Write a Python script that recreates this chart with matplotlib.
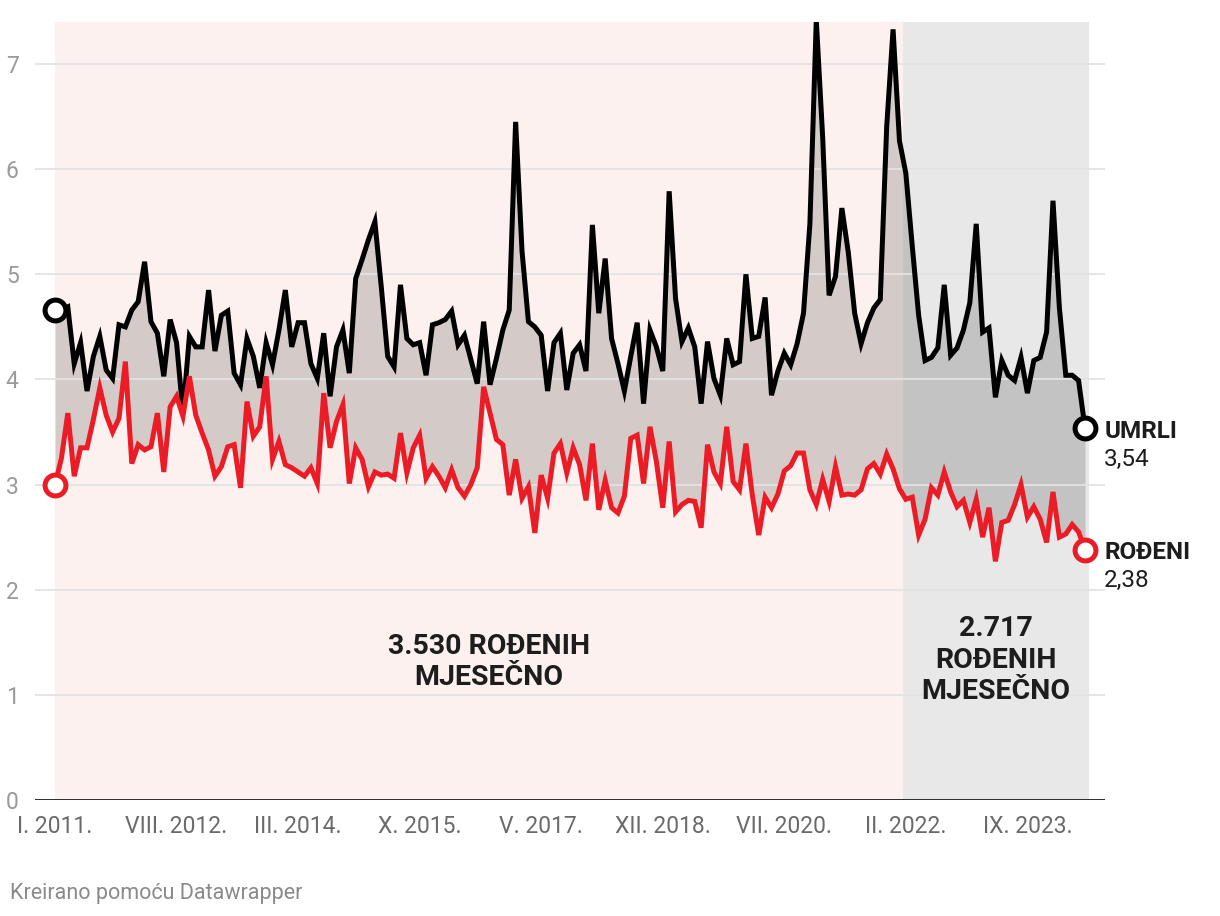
import matplotlib
matplotlib.use("Agg")
import matplotlib.pyplot as plt
import numpy as np

plt.rcParams['font.family'] = ['Roboto', 'DejaVu Sans']

# Monthly values (thousands), January 2011 .. June 2024
umrli = [4.66, 4.66, 4.69, 4.15, 4.35, 3.89, 4.22, 4.41, 4.09, 4.01,
         4.52, 4.50, 4.66, 4.74, 5.12, 4.55, 4.44, 4.03, 4.57, 4.35,
         3.68, 4.41, 4.31, 4.31, 4.85, 4.27, 4.61, 4.65, 4.06, 3.95,
         4.39, 4.22, 3.92, 4.35, 4.14, 4.47, 4.85, 4.31, 4.54, 4.54,
         4.15, 4.01, 4.44, 3.84, 4.31, 4.47, 4.06, 4.96, 5.14, 5.33,
         5.50, 4.88, 4.22, 4.12, 4.90, 4.39, 4.33, 4.35, 4.04, 4.52,
         4.54, 4.57, 4.65, 4.33, 4.42, 4.19, 3.96, 4.55, 3.95, 4.20,
         4.47, 4.66, 6.45, 5.22, 4.55, 4.50, 4.42, 3.89, 4.35, 4.44,
         3.90, 4.25, 4.33, 4.08, 5.47, 4.63, 5.15, 4.39, 4.15, 3.89,
         4.22, 4.54, 3.77, 4.47, 4.31, 4.08, 5.79, 4.77, 4.36, 4.49,
         4.31, 3.77, 4.36, 4.01, 3.85, 4.39, 4.14, 4.17, 5.00, 4.39,
         4.41, 4.78, 3.85, 4.08, 4.25, 4.14, 4.34, 4.63, 5.48, 7.42,
         6.30, 4.80, 4.98, 5.63, 5.21, 4.63, 4.34, 4.54, 4.68, 4.76,
         6.40, 7.33, 6.27, 5.96, 5.27, 4.61, 4.18, 4.21, 4.30, 4.90,
         4.23, 4.30, 4.47, 4.73, 5.48, 4.45, 4.49, 3.83, 4.18, 4.04,
         3.99, 4.21, 3.87, 4.18, 4.21, 4.45, 5.70, 4.68, 4.04, 4.04,
         3.99, 3.54]

rodjeni = [3.00, 3.25, 3.68, 3.08, 3.35, 3.35, 3.62, 3.92, 3.66, 3.50,
           3.63, 4.17, 3.20, 3.38, 3.33, 3.36, 3.68, 3.12, 3.74, 3.84,
           3.65, 4.03, 3.66, 3.49, 3.33, 3.08, 3.17, 3.36, 3.38, 2.97,
           3.79, 3.46, 3.55, 4.03, 3.24, 3.41, 3.19, 3.16, 3.12, 3.08,
           3.16, 3.01, 3.87, 3.35, 3.60, 3.76, 3.01, 3.35, 3.24, 2.98,
           3.12, 3.09, 3.10, 3.06, 3.49, 3.11, 3.35, 3.47, 3.06, 3.17,
           3.08, 2.97, 3.14, 2.97, 2.89, 3.00, 3.16, 3.93, 3.68, 3.43,
           3.38, 2.90, 3.24, 2.87, 2.98, 2.54, 3.09, 2.87, 3.30, 3.39,
           3.11, 3.35, 3.19, 2.85, 3.39, 2.76, 3.04, 2.78, 2.73, 2.89,
           3.44, 3.47, 3.01, 3.55, 3.22, 2.78, 3.41, 2.74, 2.81, 2.85,
           2.84, 2.59, 3.38, 3.12, 3.01, 3.55, 3.03, 2.95, 3.39, 2.90,
           2.52, 2.88, 2.78, 2.91, 3.13, 3.18, 3.30, 3.30, 2.95, 2.81,
           3.05, 2.84, 3.17, 2.90, 2.91, 2.90, 2.95, 3.15, 3.20, 3.10,
           3.29, 3.15, 2.96, 2.86, 2.88, 2.52, 2.67, 2.97, 2.90, 3.12,
           2.93, 2.79, 2.85, 2.64, 2.86, 2.50, 2.78, 2.27, 2.64, 2.66,
           2.81, 3.00, 2.69, 2.79, 2.67, 2.45, 2.93, 2.50, 2.53, 2.62,
           2.55, 2.38]

tick_months = [0, 19, 38, 57, 76, 95, 114, 133, 152]
tick_labels = ["I. 2011.", "VIII. 2012.", "III. 2014.", "X. 2015.", "V. 2017.",
               "XII. 2018.", "VII. 2020.", "II. 2022.", "IX. 2023."]
y_ticks = [0, 1, 2, 3, 4, 5, 6, 7]

period_split = 132.55   # start of the grey (recent) period
period_end = 161.6

x = np.arange(len(umrli))
n = len(umrli)

fig = plt.figure(figsize=(12.2, 9.16), dpi=100)
ax = fig.add_axes([35/1220, 1 - 800/916, 1070/1220, 778/916])
ax.set_xlim(-20/6.39, (n - 1) + 20/6.39)
ax.set_ylim(0, 7.4)

# period backgrounds
ax.axvspan(0, period_split, color='#fcf1ee', zorder=0, lw=0)
ax.axvspan(period_split, period_end, color='#e8e8e8', zorder=0, lw=0)

# gridlines
for yv in y_ticks[1:]:
    ax.axhline(yv, color='#e3e3e3', lw=1.3, zorder=1.5)
ax.axhline(0, color='#1a1a1a', lw=2, zorder=5)

# fill between
ax.fill_between(x, rodjeni, umrli, color='black', alpha=0.155, lw=0, zorder=1)

ax.plot(x, umrli, color='black', lw=3.6, zorder=4, solid_joinstyle='miter')
ax.plot(x, rodjeni, color='#ec1c27', lw=3.6, zorder=4, solid_joinstyle='miter')

for series, col in [(umrli, 'black'), (rodjeni, '#ec1c27')]:
    ax.plot([0, n - 1], [series[0], series[-1]], ls='none', marker='o', ms=15,
            mfc='white', mec=col, mew=3.6, zorder=6)

for s in ax.spines.values():
    s.set_visible(False)

ax.set_yticks(y_ticks)
ax.set_yticklabels([str(v) for v in y_ticks])
ax.tick_params(axis='y', length=0, labelsize=16.5, labelcolor='#9a9a9a')
for lab in ax.get_yticklabels():
    lab.set_horizontalalignment('left')
ax.yaxis.set_tick_params(pad=21)

ax.set_xticks(tick_months)
ax.set_xticklabels(tick_labels)
ax.tick_params(axis='x', length=0, pad=11, labelsize=16.5, labelcolor='#6a6a6a')

# annotations
ax.text(67.8, 1.31, "3.530 ROĐENIH\nMJESEČNO", ha='center', va='center',
        fontsize=20.5, fontweight='bold', color='#1d1d1d', linespacing=1.2)
ax.text(147.1, 1.33, "2.717\nROĐENIH\nMJESEČNO", ha='center', va='center',
        fontsize=20.5, fontweight='bold', color='#1d1d1d', linespacing=1.2)

xl = n - 1 + 3
ax.text(xl, (800 - 432) / 105.1, "UMRLI", ha='left', va='center', fontsize=17.5,
        fontweight='bold', color='#1d1d1d', clip_on=False)
ax.text(xl, (800 - 460) / 105.1, "3,54", ha='left', va='center', fontsize=17.5,
        color='#1d1d1d', clip_on=False)
ax.text(xl, (800 - 553) / 105.1, "ROĐENI", ha='left', va='center', fontsize=17.5,
        fontweight='bold', color='#1d1d1d', clip_on=False)
ax.text(xl, (800 - 581) / 105.1, "2,38", ha='left', va='center', fontsize=17.5,
        color='#1d1d1d', clip_on=False)

fig.text(10/1220, 1 - 893/916, "Kreirano pomoću Datawrapper", ha='left', va='center',
         fontsize=15.5, color='#8a8a8a')

fig.savefig("out.png", dpi=100)
